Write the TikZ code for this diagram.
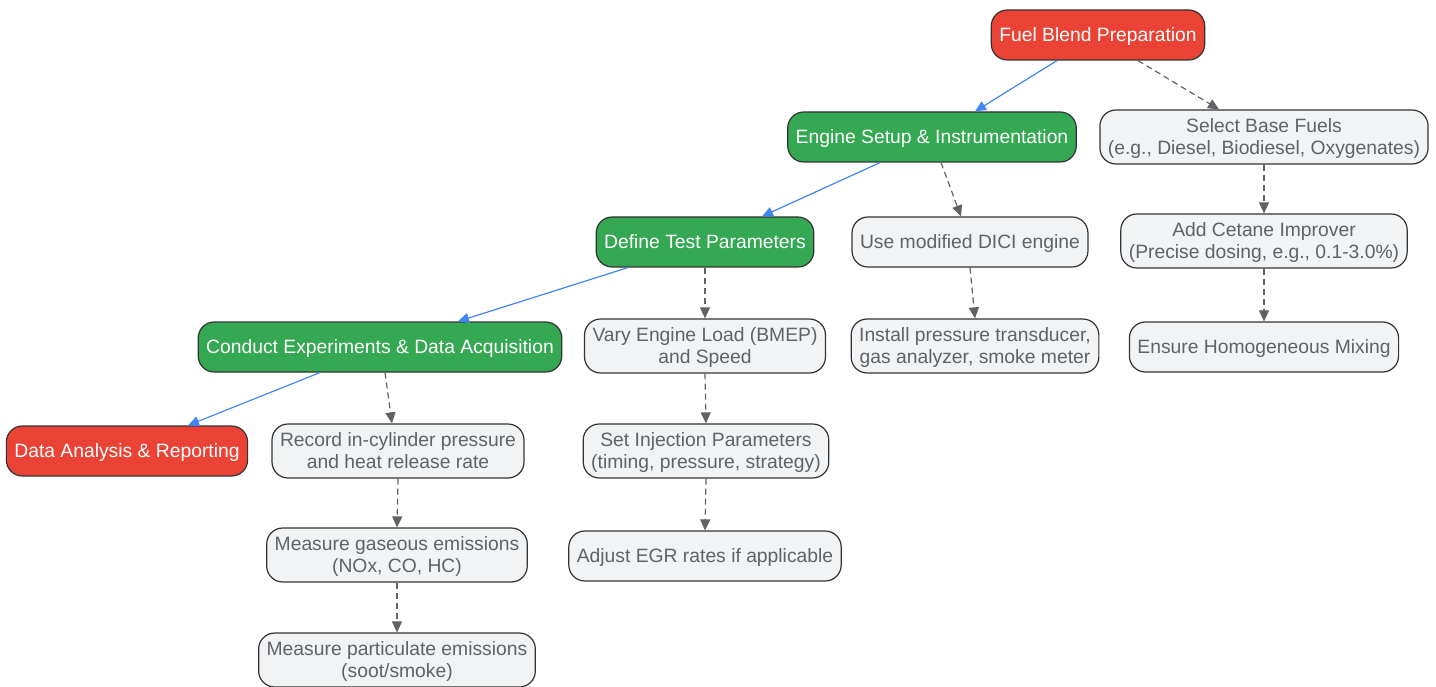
\documentclass[tikz,border=0pt]{standalone}
\usepackage{fontspec}
\setmainfont{Liberation Sans}
\usetikzlibrary{arrows.meta}
\definecolor{fuelred}{HTML}{EA4335}
\definecolor{stepgreen}{HTML}{34A853}
\definecolor{detailgray}{HTML}{F1F3F4}
\definecolor{detailtext}{HTML}{5F6368}
\definecolor{boxline}{HTML}{333333}
\definecolor{flowblue}{HTML}{4285F4}
\definecolor{subgray}{HTML}{5F6368}
\tikzset{
  box/.style={draw=boxline, line width=1.2pt, rounded corners=16pt,
    minimum height=50pt, inner xsep=8pt, inner ysep=9pt, text depth=0pt,
    align=center, font=\fontsize{19.3}{22}\selectfont},
  redbox/.style={box, fill=fuelred, text=white},
  greenbox/.style={box, fill=stepgreen, text=white},
  graybox/.style={box, fill=detailgray, text=detailtext},
  mainflow/.style={draw=flowblue, line width=1.2pt,
    -{Triangle[length=11pt,width=10pt]}},
  subflow/.style={draw=subgray, line width=1.2pt, dash pattern=on 6pt off 4pt,
    -{Triangle[length=11pt,width=10pt]}},
}
\begin{document}
\begin{tikzpicture}[x=1pt,y=-1pt]
    \useasboundingbox (0,0) rectangle (1436,687);
    % main steps
    \node[redbox,at={(1098,35)}] (fuel) {Fuel Blend Preparation};
    \node[greenbox,at={(932,137)}] (setup) {Engine Setup \& Instrumentation};
    \node[greenbox,at={(705,242)}] (define) {Define Test Parameters};
    \node[greenbox,at={(380,347)}] (conduct) {Conduct Experiments \& Data Acquisition};
    \node[redbox,at={(127,451)}] (analysis) {Data Analysis \& Reporting};
    % fuel details
    \node[graybox,at={(1264,137)}] (base) {Select Base Fuels\\(e.g., Diesel, Biodiesel, Oxygenates)};
    \node[graybox,at={(1264,241)}] (cetane) {Add Cetane Improver\\(Precise dosing, e.g., 0.1-3.0\%)};
    \node[graybox,at={(1264,347)}] (mixing) {Ensure Homogeneous Mixing};
    % engine details
    \node[graybox,at={(970,242)}] (dici) {Use modified DICI engine};
    \node[graybox,at={(975,346)}] (install) {Install pressure transducer,\\gas analyzer, smoke meter};
    % test parameters
    \node[graybox,at={(705,346)}] (vary) {Vary Engine Load (BMEP)\\and Speed};
    \node[graybox,at={(706,451)}] (inject) {Set Injection Parameters\\(timing, pressure, strategy)};
    \node[graybox,at={(705,556)}] (egr) {Adjust EGR rates if applicable};
    % measurements
    \node[graybox,at={(398,451)}] (record) {Record in-cylinder pressure\\and heat release rate};
    \node[graybox,at={(397,555)}] (gaseous) {Measure gaseous emissions\\(NOx, CO, HC)};
    \node[graybox,at={(397,660)}] (particulate) {Measure particulate emissions\\(soot/smoke)};
    % connectors
    \draw[mainflow] ([xshift=-41pt]fuel.south) -- ([xshift=43pt]setup.north);
    \draw[subflow] ([xshift=40pt]fuel.south) -- ([xshift=-45pt]base.north);
    \draw[mainflow] ([xshift=-52pt]setup.south) -- ([xshift=57pt]define.north);
    \draw[subflow] ([xshift=9pt]setup.south) -- ([xshift=-9pt]dici.north);
    \draw[subflow] (base.south) -- (cetane.north);
    \draw[mainflow] ([xshift=-77pt]define.south) -- ([xshift=78pt]conduct.north);
    \draw[subflow] (define.south) -- (vary.north);
    \draw[subflow] (dici.south) -- (install.north);
    \draw[subflow] (cetane.south) -- (mixing.north);
    \draw[mainflow] ([xshift=-60pt]conduct.south) -- ([xshift=61pt]analysis.north);
    \draw[subflow] ([xshift=5pt]conduct.south) -- ([xshift=-6pt]record.north);
    \draw[subflow] (vary.south) -- (inject.north);
    \draw[subflow] (record.south) -- (gaseous.north);
    \draw[subflow] (inject.south) -- (egr.north);
    \draw[subflow] (gaseous.south) -- (particulate.north);
\end{tikzpicture}
\end{document}
